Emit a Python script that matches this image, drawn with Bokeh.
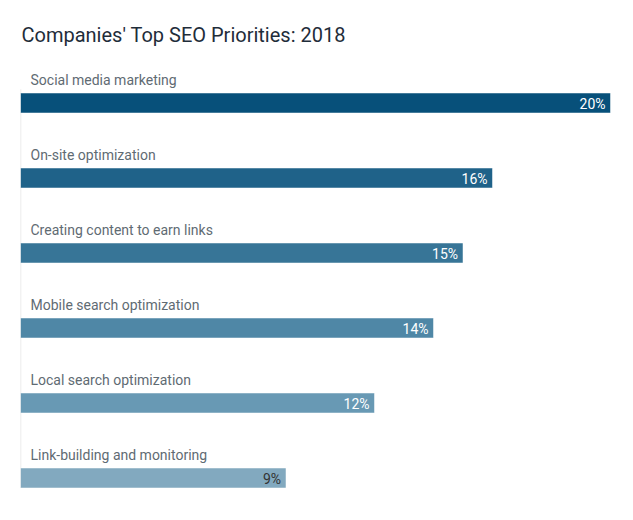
from bokeh.plotting import figure
from bokeh.models import Range1d, ColumnDataSource, Label
from bokeh.core.properties import value
from bokeh.embed import file_html
from bokeh.resources import INLINE

categories = ["Social media marketing", "On-site optimization", "Creating content to earn links",
              "Mobile search optimization", "Local search optimization", "Link-building and monitoring"]
values = [20, 16, 15, 14, 12, 9]
colors = ["#07507a", "#1f6289", "#377597", "#4f87a6", "#6899b4", "#82a9bf"]
label_colors = ["#ffffff", "#ffffff", "#ffffff", "#ffffff", "#ffffff", "#333333"]
title_text = "Companies' Top SEO Priorities: 2018"

W, H = 625, 512
left_pad = 20
px_per_unit = 29.5
row_px = 75.0
first_center = 103.5 - 1  # px from top of figure

xr = Range1d(0, (W - left_pad) / px_per_unit)
top_val = -first_center / row_px
bot_val = (H - first_center) / row_px
yr = Range1d(bot_val, top_val)

p = figure(width=W, height=H, x_range=xr, y_range=yr, output_backend="svg",
           toolbar_location=None, min_border_left=left_pad, min_border_right=0,
           min_border_top=0, min_border_bottom=0, outline_line_color=None)
p.xaxis.visible = False
p.yaxis.visible = False
p.grid.visible = False
p.background_fill_color = "white"
p.border_fill_color = "white"

idx = list(range(len(categories)))
src = ColumnDataSource(dict(y=idx, v=values, c=colors, lc=label_colors, cat=categories,
                            lab=[f"{v}%" for v in values]))

bar_h = 20 / row_px
# axis line
p.segment(x0=[0], y0=[idx[0] - bar_h / 2 - 0.05], x1=[0], y1=[idx[-1] + bar_h / 2],
          line_color="#e6e6e6", line_width=1.5)

p.hbar(y="y", right="v", left=0, height=bar_h, fill_color="c", line_color="white",
       line_width=0.5, source=src)

p.text(x="v", y="y", text="lab", text_color="lc", text_align="right", text_baseline="middle",
       x_offset=-5, y_offset=0.5, text_font=value("Roboto"), text_font_size="14px", source=src)

p.text(x=0, y="y", text="cat", text_color="#5f6b73", text_align="left", text_baseline="middle",
       x_offset=10, y_offset=-23.5, text_font=value("Roboto"), text_font_size="14px", source=src)

title = Label(x=1, y=H - 34, x_units="screen", y_units="screen", text=title_text,
              text_font="Roboto", text_font_size="20px", text_color="#1f2d3a",
              text_baseline="middle", text_align="left")
p.add_layout(title)

open("out.html", "w").write(file_html(p, INLINE))
